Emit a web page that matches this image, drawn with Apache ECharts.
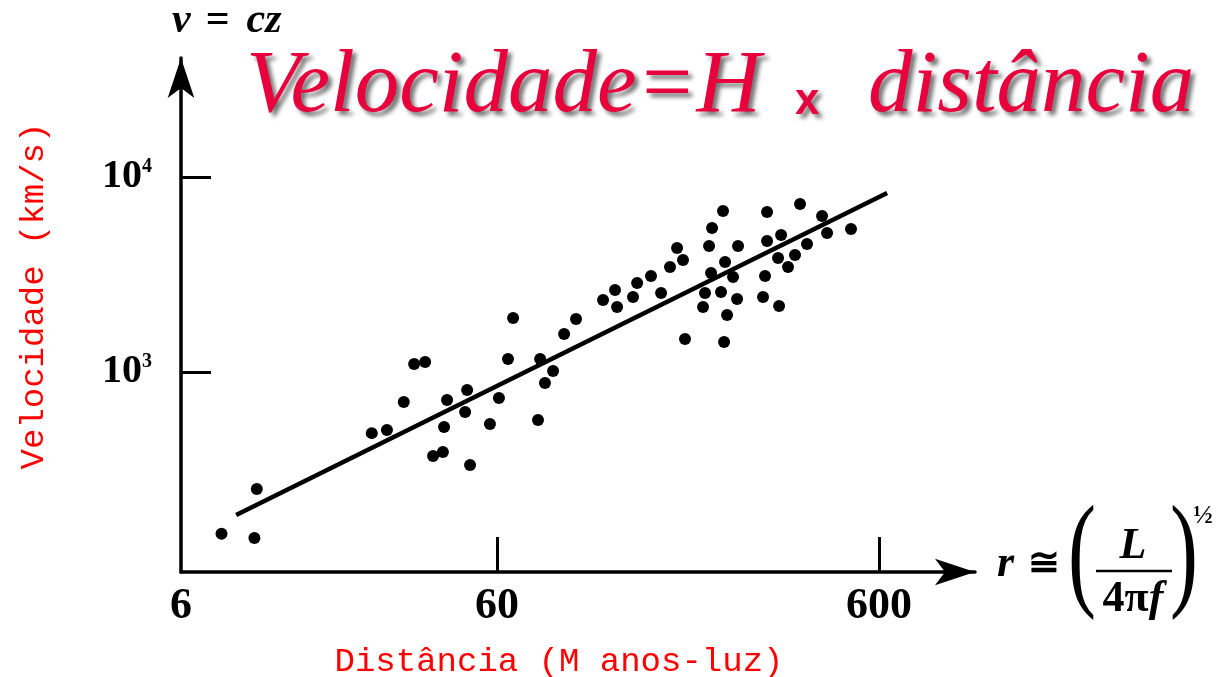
<!DOCTYPE html>
<html>
<head>
<meta charset="utf-8">
<title>Velocidade = H x distância</title>
<script src="https://cdn.jsdelivr.net/npm/echarts@6/dist/echarts.min.js"></script>
<style>
  html, body { margin: 0; padding: 0; background: #fff; }
  #chart { width: 1216px; height: 677px; }
</style>
</head>
<body>
<div id="chart"></div>
<script>
// Galaxy distances (millions of light-years) and recession velocities (km/s)
const distance = [
  11.4, 13.9, 14.1, 28.2, 30.9, 34.2, 36.4, 38.9, 44.4, 43.6,
  40.8, 43.3, 50.1, 49.5, 51.0, 57.5, 60.7, 64.1, 66.1, 76.8,
  77.8, 84.1, 80.1, 89.9, 96.6, 113.7, 122.2, 123.7, 136.2, 139.6,
  151.8, 161.3, 170.2, 177.6, 184.1, 186.3, 219.3, 234.3, 215.4, 256.5,
  237.2, 218.0, 248.9, 210.2, 231.5, 255.0, 207.7, 240.1, 235.8, 301.8,
  298.2, 328.5, 305.5, 372.7, 425.6, 506.8, 305.5, 332.5, 326.5, 361.6,
  346.7, 388.7, 438.7
];
const velocity = [
  148, 141, 251, 486, 504, 702, 1099, 1125, 719, 522,
  371, 389, 809, 624, 334, 541, 735, 1166, 1892, 567,
  1166, 1012, 878, 1566, 1870, 2340, 2633, 2154, 2424, 2860,
  3107, 2542, 3455, 4324, 3753, 1476, 5477, 6693, 4428, 4428,
  3665, 3219, 3071, 2542, 2572, 2367, 2154, 1960, 1425, 3107,
  2424, 2180, 6615, 7269, 6310, 5412, 4696, 5043, 3842, 3981,
  3455, 4532, 5162
];

// Fitted Hubble line (start and end)
const fitDistance = [12.45, 630];
const fitVelocity = [185, 8280];

// Axis ranges and tick labels
const distRange = [8.93, 1070];
const distTickValues = [8.93, 60, 600];
const distTickLabels = ['6', '60', '600'];
const velRange = [94.3, 40770];
const velTickValues = [1000, 10000];
const velTickExponents = ['3', '4'];

const points = distance.map((d, i) => [d, velocity[i]]);
const fitLine = fitDistance.map((d, i) => [d, fitVelocity[i]]);

const SERIF = "'Liberation Serif', 'Times New Roman', serif";
const MONO = "'Liberation Mono', 'DejaVu Sans Mono', monospace";
const titleRed = '#e8003d';
const shadow = {
  textShadowColor: 'rgba(0,0,0,0.55)',
  textShadowBlur: 4,
  textShadowOffsetX: 4,
  textShadowOffsetY: 4
};

const chart = echarts.init(document.getElementById('chart'), null, { renderer: 'canvas' });

chart.setOption({
  animation: false,
  backgroundColor: '#ffffff',
  title: {
    text: '{t|Velocidade=H }{x|x}{t|  distância}',
    left: 241,
    top: 38,
    textStyle: {
      fontWeight: 'normal',
      rich: {
        t: Object.assign({
          fontFamily: SERIF, fontStyle: 'italic', fontWeight: 'normal', fontSize: 89,
          color: titleRed
        }, shadow),
        x: Object.assign({
          fontFamily: "'Liberation Sans', Arial, sans-serif", fontWeight: 'bold',
          fontSize: 44, color: titleRed, padding: [0, 4, 8, 12],
          verticalAlign: 'bottom'
        }, shadow)
      }
    }
  },
  grid: {
    left: 181, right: 241, top: 58, bottom: 105,
    containLabel: false, outerBoundsMode: 'none'
  },
  xAxis: {
    type: 'log',
    logBase: 10,
    min: distRange[0],
    max: distRange[1],
    name: 'Distância (M anos-luz)',
    nameLocation: 'middle',
    nameGap: 73,
    nameTextStyle: {
      color: '#ff0000', fontFamily: MONO, fontSize: 34, padding: [0, 38, 0, 0]
    },
    axisLine: {
      show: true,
      symbol: ['none', 'arrow'],
      symbolSize: [20, 40],
      lineStyle: { color: '#000', width: 3.5 }
    },
    axisTick: {
      show: true, inside: true, length: 35,
      customValues: distTickValues.slice(1),
      lineStyle: { color: '#000', width: 3 }
    },
    minorTick: { show: false },
    axisLabel: {
      show: true,
      customValues: distTickValues,
      margin: 13,
      fontFamily: SERIF, fontWeight: 'bold', fontSize: 44, color: '#000',
      formatter: function (value) {
        let best = 0;
        distTickValues.forEach((v, i) => {
          if (Math.abs(Math.log(v) - Math.log(value)) < Math.abs(Math.log(distTickValues[best]) - Math.log(value))) best = i;
        });
        return distTickLabels[best];
      }
    },
    splitLine: { show: false }
  },
  yAxis: {
    type: 'log',
    logBase: 10,
    min: velRange[0],
    max: velRange[1],
    name: 'Velocidade (km/s)',
    nameLocation: 'middle',
    nameGap: 130,
    nameTextStyle: {
      color: '#ff0000', fontFamily: MONO, fontSize: 34, padding: [0, 0, 0, 38]
    },
    axisLine: {
      show: true,
      symbol: ['none', 'arrow'],
      symbolSize: [20, 40],
      lineStyle: { color: '#000', width: 3.5 }
    },
    axisTick: {
      show: true, inside: true, length: 30,
      customValues: velTickValues,
      lineStyle: { color: '#000', width: 3 }
    },
    minorTick: { show: false },
    axisLabel: {
      show: true,
      customValues: velTickValues,
      margin: 29,
      formatter: function (value) {
        const i = velTickValues.indexOf(Math.round(value));
        return '{b|10}{s|' + (i >= 0 ? velTickExponents[i] : '') + '}';
      },
      rich: {
        b: { fontFamily: SERIF, fontWeight: 'bold', fontSize: 40, color: '#000' },
        s: { fontFamily: SERIF, fontWeight: 'bold', fontSize: 20, color: '#000', verticalAlign: 'top' }
      }
    },
    splitLine: { show: false }
  },
  series: [
    {
      type: 'line',
      data: fitLine,
      symbol: 'none',
      lineStyle: { color: '#000', width: 4.5 },
      z: 2
    },
    {
      type: 'scatter',
      data: points,
      symbol: 'circle',
      symbolSize: 12,
      itemStyle: { color: '#000', opacity: 1 },
      z: 3
    }
  ],
  graphic: [
    {
      type: 'text', x: 172, y: 21,
      style: {
        text: '{v|v}{n|=}{i|cz}',
        align: 'left', verticalAlign: 'middle',
        rich: {
          v: { fontFamily: SERIF, fontStyle: 'italic', fontWeight: 'bold', fontSize: 42, fill: '#000', padding: [0, 15, 0, 0] },
          i: { fontFamily: SERIF, fontStyle: 'italic', fontWeight: 'bold', fontSize: 42, fill: '#000' },
          n: { fontFamily: SERIF, fontWeight: 'bold', fontSize: 42, fill: '#000', padding: [0, 17, 0, 0] }
        }
      }
    },
    {
      type: 'text', x: 997, y: 565,
      style: {
        text: '{i|r}{n|≅}',
        align: 'left', verticalAlign: 'middle',
        rich: {
          i: { fontFamily: SERIF, fontStyle: 'italic', fontWeight: 'bold', fontSize: 44, fill: '#000', padding: [0, 14, 0, 0] },
          n: { fontFamily: SERIF, fontWeight: 'bold', fontSize: 38, fill: '#000' }
        }
      }
    },
    {
      type: 'text', x: 1082, y: 560, scaleY: 1.5,
      style: {
        text: '(', fontFamily: SERIF, fontSize: 84, fill: '#000',
        align: 'center', verticalAlign: 'middle'
      }
    },
    {
      type: 'text', x: 1133, y: 547,
      style: {
        text: 'L', fontFamily: SERIF, fontStyle: 'italic', fontWeight: 'bold', fontSize: 44, fill: '#000',
        align: 'center', verticalAlign: 'middle'
      }
    },
    {
      type: 'line',
      shape: { x1: 1096, y1: 571, x2: 1172, y2: 571 },
      style: { stroke: '#000', lineWidth: 2.5 }
    },
    {
      type: 'text', x: 1133, y: 600,
      style: {
        text: '{n|4π}{i|f}',
        align: 'center', verticalAlign: 'middle',
        rich: {
          i: { fontFamily: SERIF, fontStyle: 'italic', fontWeight: 'bold', fontSize: 44, fill: '#000' },
          n: { fontFamily: SERIF, fontWeight: 'bold', fontSize: 44, fill: '#000' }
        }
      }
    },
    {
      type: 'text', x: 1184, y: 560, scaleY: 1.5,
      style: {
        text: ')', fontFamily: SERIF, fontSize: 84, fill: '#000',
        align: 'center', verticalAlign: 'middle'
      }
    },
    {
      type: 'text', x: 1203, y: 516,
      style: {
        text: '½', fontFamily: SERIF, fontWeight: 'bold', fontSize: 26, fill: '#000',
        align: 'center', verticalAlign: 'middle'
      }
    }
  ]
});
</script>
</body>
</html>
